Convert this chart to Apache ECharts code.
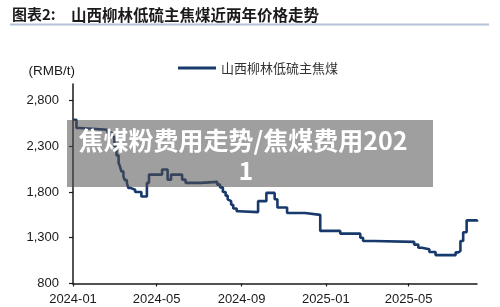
<!DOCTYPE html>
<html>
<head>
<meta charset="utf-8">
<script src="https://cdn.jsdelivr.net/npm/echarts@6/dist/echarts.min.js"></script>
<style>html,body{margin:0;padding:0;background:#fff;}#c{width:500px;height:307px;}</style>
</head>
<body>
<div id="c"></div>
<script>
// ---- data ----
const dates = ['2024-01-01','2024-01-06','2024-01-11','2024-02-20','2024-02-26','2024-03-01','2024-03-04','2024-03-07','2024-03-09','2024-03-11','2024-03-14','2024-03-16','2024-03-19','2024-03-21','2024-03-24','2024-03-31','2024-04-09','2024-04-17','2024-04-20','2024-05-09','2024-05-17','2024-05-22','2024-06-07','2024-06-12','2024-07-04','2024-07-28','2024-08-01','2024-08-05','2024-08-09','2024-08-12','2024-08-14','2024-08-17','2024-08-20','2024-08-25','2024-08-28','2024-09-25','2024-10-07','2024-10-19','2024-10-23','2024-11-06','2024-12-02','2024-12-24','2025-01-22','2025-02-20','2025-02-24','2025-03-11','2025-05-09','2025-05-15','2025-05-20','2025-05-31','2025-06-09','2025-07-08','2025-07-12','2025-07-15','2025-07-19','2025-07-24','2025-08-05','2025-08-08'];
const prices = [2590,2500,2480,2450,2400,2300,2200,2120,2080,2025,1970,1930,1900,1845,1825,1800,1750,1900,1990,2045,1935,1990,1935,1900,1910,1880,1850,1800,1760,1720,1700,1660,1620,1590,1580,1700,1790,1720,1630,1570,1550,1375,1345,1300,1265,1255,1225,1190,1175,1145,1110,1140,1155,1265,1360,1490,1490,1475];
const xTickDates = ['2024-01-01','2024-05-01','2024-09-01','2025-01-01','2025-05-01'];
const xMinDate = '2024-01-01';
const xMaxDate = '2025-08-08';
const yTicks = [800,1300,1800,2300,2800];
const seriesName = '山西柳林低硫主焦煤';
const titlePrefix = '图表2:';
const titleText = '山西柳林低硫主焦煤近两年价格走势';
const unitLabel = '(RMB/t)';
const overlayLine1 = '焦煤粉费用走势/焦煤费用202';
const overlayLine2 = '1';

const chart = echarts.init(document.getElementById('c'), null, {renderer:'canvas'});
const ts = s => { const p = s.split('-').map(Number); return Date.UTC(p[0], p[1] - 1, p[2]); };
const pad = n => (n < 10 ? '0' : '') + n;
const fmtMonth = v => { const d = new Date(v); return d.getUTCFullYear() + '-' + pad(d.getUTCMonth() + 1); };
const latin = '"Liberation Sans", Arial, sans-serif';
const cjk = '"Noto Sans CJK SC", sans-serif';
const xTicks = xTickDates.map(ts);
const lineColor = '#17396b';

chart.setOption({
  animation: false,
  backgroundColor: '#ffffff',
  grid: { left: 73, right: 23, top: 84, bottom: 23.5, containLabel: false },
  legend: {
    left: 178, top: 60, padding: 0,
    itemWidth: 38, itemHeight: 3, itemGap: 10,
    icon: 'rect',
    data: [seriesName],
    itemStyle: { color: lineColor },
    textStyle: { fontFamily: cjk, fontSize: 13, color: '#333', lineHeight: 16 }
  },
  xAxis: {
    type: 'value',
    min: ts(xMinDate), max: ts(xMaxDate),
    axisLine: { lineStyle: { color: '#1a1a1a', width: 1.5 } },
    axisTick: { show: true, length: 3, customValues: xTicks, lineStyle: { color: '#1a1a1a', width: 1.2 } },
    axisLabel: { customValues: xTicks, formatter: v => fmtMonth(v), fontFamily: latin, fontSize: 13, color: '#1a1a1a', margin: 9 },
    splitLine: { show: false }
  },
  yAxis: {
    type: 'value',
    min: 800, max: 2980,
    name: unitLabel,
    nameLocation: 'end',
    nameGap: 6,
    nameTextStyle: { fontFamily: latin, fontSize: 13.5, color: '#1a1a1a', align: 'right', padding: [0, -2, 0, 0] },
    axisLine: { show: true, lineStyle: { color: '#1a1a1a', width: 1.5 } },
    axisTick: { show: true, length: 4, customValues: yTicks, lineStyle: { color: '#1a1a1a', width: 1.2 } },
    axisLabel: { customValues: yTicks, formatter: v => echarts.format.addCommas(v), fontFamily: latin, fontSize: 13, color: '#1a1a1a', margin: 14 },
    splitLine: { show: false }
  },
  series: [{
    name: seriesName,
    type: 'line',
    step: 'end',
    showSymbol: false,
    symbol: 'none',
    lineStyle: { color: lineColor, width: 2.6 },
    itemStyle: { color: lineColor },
    data: dates.map((d, i) => [ts(d), prices[i]])
  }],
  graphic: [
    { type: 'text', left: 12, top: 7, style: { text: titlePrefix, fontFamily: cjk, fontWeight: 'bold', fontSize: 15, fill: '#1a1a1a' } },
    { type: 'text', left: 71, top: 7, style: { text: titleText, fontFamily: cjk, fontWeight: 'bold', fontSize: 15.5, fill: '#1a1a1a' } },
    { type: 'line', shape: { x1: 10, y1: 24.5, x2: 489, y2: 24.5 }, style: { stroke: '#b3c2d5', lineWidth: 2 } },
    { type: 'rect', z: 100, shape: { x: 67, y: 120, width: 366, height: 67 }, style: { fill: 'rgba(80,80,80,0.55)' } },
    { type: 'text', z: 101, x: 243, y: 140, style: { text: overlayLine1, fontFamily: cjk, fontWeight: 'bold', fontSize: 25, fill: '#ffffff', align: 'center', verticalAlign: 'middle' } },
    { type: 'text', z: 101, x: 246, y: 170, style: { text: overlayLine2, fontFamily: cjk, fontWeight: 'bold', fontSize: 25, fill: '#ffffff', align: 'center', verticalAlign: 'middle' } }
  ]
});
</script>
</body>
</html>
